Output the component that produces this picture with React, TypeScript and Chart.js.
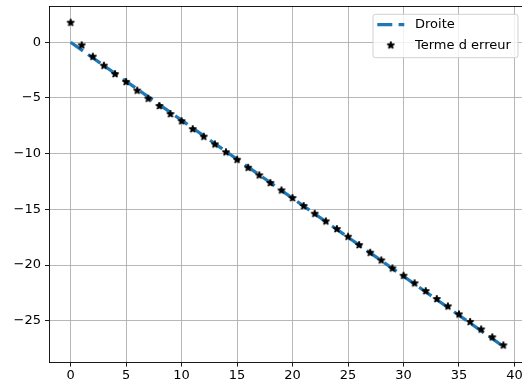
import React, { useEffect, useRef } from "react";
import { Chart, registerables } from "chart.js";

Chart.register(...registerables);

// ---- data ----
const pointX = [0, 1, 2, 3, 4, 5, 6, 7, 8, 9, 10, 11, 12, 13, 14, 15, 16, 17, 18, 19,
  20, 21, 22, 23, 24, 25, 26, 27, 28, 29, 30, 31, 32, 33, 34, 35, 36, 37, 38, 39];
const pointY = [1.76, -0.27, -1.29, -2.1, -2.85, -3.56, -4.34, -5.06, -5.72, -6.44,
  -7.08, -7.79, -8.47, -9.16, -9.87, -10.54, -11.26, -11.94, -12.63, -13.29,
  -13.98, -14.69, -15.39, -16.07, -16.76, -17.45, -18.2, -18.89, -19.57, -20.29,
  -20.95, -21.63, -22.33, -23.04, -23.7, -24.42, -25.1, -25.77, -26.48, -27.2];
const lineX = [0, 39];
const lineY = [0, -27.3];
const seriesLabels = ["Droite", "Terme d erreur"];
const xTicks = [0, 5, 10, 15, 20, 25, 30, 35, 40];
const yTicks = [-25, -20, -15, -10, -5, 0];

const BLUE = "#1f77b4";
const FONT = "'DejaVu Sans', sans-serif";
const FS = 13;

function makeStar(): HTMLCanvasElement {
  const c = document.createElement("canvas");
  c.width = 12;
  c.height = 12;
  const g = c.getContext("2d")!;
  const cx = 6, cy = 6, R = 3.8, r = R * 0.381966;
  g.beginPath();
  for (let i = 0; i < 10; i++) {
    const rad = i % 2 === 0 ? R : r;
    const a = -Math.PI / 2 + (i * Math.PI) / 5;
    const px = cx + rad * Math.cos(a);
    const py = cy + rad * Math.sin(a);
    if (i === 0) g.moveTo(px, py);
    else g.lineTo(px, py);
  }
  g.closePath();
  g.fillStyle = "#000";
  g.fill();
  g.lineWidth = 1.2;
  g.lineJoin = "bevel";
  g.strokeStyle = "#000";
  g.stroke();
  return c;
}

const fmt = (v: number) => (v < 0 ? "\u2212" + Math.abs(v) : String(v));

export default function App() {
  const ref = useRef<HTMLCanvasElement>(null);
  useEffect(() => {
    const canvas = ref.current!;
    const star = makeStar();

    const framePlugin = {
      id: "frame",
      afterDatasetsDraw(chart: any) {
        const { ctx, chartArea: a } = chart;
        ctx.save();
        ctx.strokeStyle = "#000";
        ctx.lineWidth = 0.9;
        ctx.beginPath();
        ctx.moveTo(a.left, a.top);
        ctx.lineTo(a.right, a.top);
        ctx.lineTo(a.right, a.bottom);
        ctx.stroke();
        ctx.restore();
      },
    };

    const legendPlugin = {
      id: "mplLegend",
      afterDraw(chart: any) {
        const ctx = chart.ctx;
        const ds = chart.data.datasets;
        const bx = 373, by = 14.3, bw = 145, bh = 43.4, rr = 2.3;
        ctx.save();
        ctx.beginPath();
        ctx.moveTo(bx + rr, by);
        ctx.lineTo(bx + bw - rr, by);
        ctx.arcTo(bx + bw, by, bx + bw, by + rr, rr);
        ctx.lineTo(bx + bw, by + bh - rr);
        ctx.arcTo(bx + bw, by + bh, bx + bw - rr, by + bh, rr);
        ctx.lineTo(bx + rr, by + bh);
        ctx.arcTo(bx, by + bh, bx, by + bh - rr, rr);
        ctx.lineTo(bx, by + rr);
        ctx.arcTo(bx, by, bx + rr, by, rr);
        ctx.closePath();
        ctx.fillStyle = "rgba(255,255,255,0.8)";
        ctx.fill();
        ctx.strokeStyle = "#cccccc";
        ctx.lineWidth = 0.9;
        ctx.stroke();

        const rows = [24.7, 45.3];
        ds.forEach((d: any, i: number) => {
          const y = rows[i];
          if (d.showLine) {
            ctx.save();
            ctx.strokeStyle = d.borderColor;
            ctx.lineWidth = d.borderWidth;
            ctx.setLineDash(d.borderDash);
            ctx.lineCap = "butt";
            ctx.beginPath();
            ctx.moveTo(377.3, y);
            ctx.lineTo(404.3, y);
            ctx.stroke();
            ctx.restore();
          } else {
            ctx.drawImage(star, 390.8 - 6, y - 6);
          }
          ctx.fillStyle = "#000";
          ctx.font = `${FS}px ${FONT}`;
          ctx.textBaseline = "middle";
          ctx.textAlign = "left";
          ctx.fillText(d.label, 415, y);
        });
        ctx.restore();
      },
    };

    const chart = new Chart(canvas, {
      type: "scatter",
      data: {
        datasets: [
          {
            label: seriesLabels[0],
            data: lineX.map((x, i) => ({ x, y: lineY[i] })),
            showLine: true,
            borderColor: BLUE,
            backgroundColor: BLUE,
            borderWidth: 3.3,
            borderDash: [15, 6.3],
            borderCapStyle: "butt",
            pointRadius: 0,
            order: 2,
          },
          {
            label: seriesLabels[1],
            data: pointX.map((x, i) => ({ x, y: pointY[i] })),
            showLine: false,
            pointStyle: star as any,
            pointRadius: 4,
            order: 1,
          },
        ],
      },
      options: {
        responsive: false,
        animation: false,
        devicePixelRatio: 1,
        layout: { padding: { left: 0, right: 4.6, top: 6.5, bottom: 0 } },
        plugins: { legend: { display: false }, tooltip: { enabled: false } },
        scales: {
          x: {
            type: "linear",
            min: -1.95,
            max: 40.95,
            afterFit: (s: any) => { s.height = 22.4; },
            afterBuildTicks: (s: any) => { s.ticks = xTicks.map((v) => ({ value: v })); },
            ticks: {
              includeBounds: false,
              callback: (v: any) => fmt(Number(v)),
              font: { family: FONT, size: FS, lineHeight: 1 },
              color: "#000",
              padding: 3,
              maxRotation: 0,
            },
            grid: { color: "#b0b0b0", lineWidth: 0.9, tickColor: "#000", tickLength: 4, drawTicks: true },
            border: { display: true, color: "#000", width: 0.9 },
          },
          y: {
            type: "linear",
            min: -28.75,
            max: 3.21,
            afterFit: (s: any) => { s.width = 49; },
            afterBuildTicks: (s: any) => { s.ticks = yTicks.map((v) => ({ value: v })); },
            ticks: {
              includeBounds: false,
              callback: (v: any) => fmt(Number(v)),
              font: { family: FONT, size: FS, lineHeight: 0.3 },
              color: "#000",
              padding: 4,
            },
            grid: { color: "#b0b0b0", lineWidth: 0.9, tickColor: "#000", tickLength: 4, drawTicks: true },
            border: { display: true, color: "#000", width: 0.9 },
          },
        },
      },
      plugins: [framePlugin, legendPlugin],
    } as any);
    return () => chart.destroy();
  }, []);

  return (
    <div style={{ position: "fixed", left: 0, top: 0, width: 522, height: 385, overflow: "hidden", background: "#fff" }}>
      <canvas ref={ref} width={530} height={385} style={{ width: 530, height: 385, display: "block" }} />
    </div>
  );
}
